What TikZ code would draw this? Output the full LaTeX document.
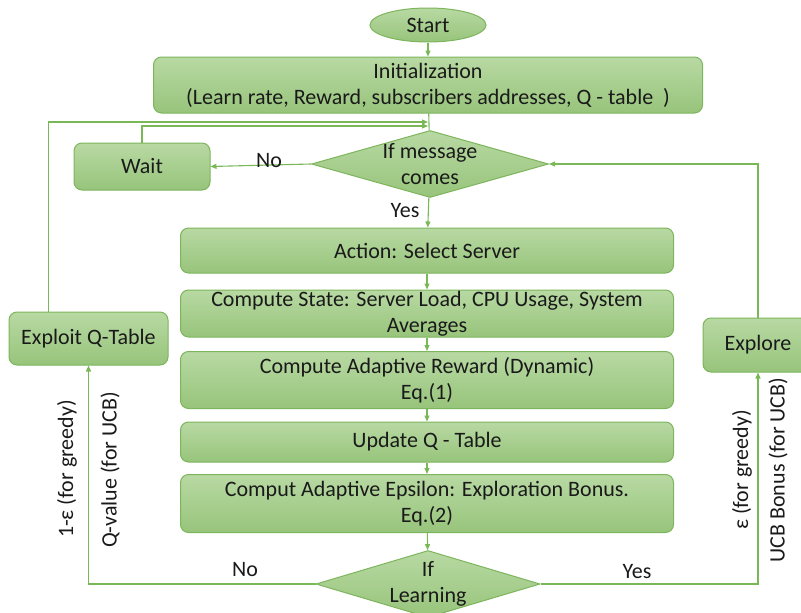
\documentclass[tikz,border=0pt]{standalone}
\usepackage{fontspec}
\setmainfont{Carlito}
\usetikzlibrary{arrows.meta,shapes.geometric,positioning}
\definecolor{boxtop}{HTML}{B8D9A3}
\definecolor{boxbot}{HTML}{97C47B}
\definecolor{boxline}{HTML}{7DB55C}
\definecolor{flowgreen}{HTML}{7AB857}
\definecolor{ink}{HTML}{1A1A1A}

\begin{document}
\begin{tikzpicture}[x=1pt,y=-1pt,
	every node/.style={font=\fontsize{22}{26}\selectfont, text=ink},
	block/.style={draw=boxline, line width=1pt, rounded corners=8pt, top color=boxtop, bottom color=boxbot, align=center, inner sep=0pt},
	decision/.style={draw=boxline, line width=1pt, diamond, top color=boxtop, bottom color=boxbot, inner sep=0pt, minimum width=#1, minimum height=67pt},
	link/.style={draw=flowgreen, line width=1.1pt},
	arrowed/.style={-{Triangle[length=6pt,width=5pt]}}]
	\useasboundingbox (0,0) rectangle (801,613);

	% main column
	\node[draw=boxline, line width=1pt, ellipse, top color=boxtop, bottom color=boxbot, minimum width=116pt, minimum height=34pt, inner sep=0pt] (start) at (428,25) {Start};
	\node[block, minimum width=549pt, minimum height=56pt] (init) at (428,85) {Initialization\\(Learn rate, Reward, subscribers addresses, Q - table\ \ )};
	\node[decision=237pt] (msg) at (430,164) {};
	\node[align=center] (msgtext) at (msg) {If message\\comes};
	\node[block, minimum width=493pt, minimum height=45pt] (action) at (427,250.5) {Action: Select Server};
	\node[block, minimum width=493pt, minimum height=47pt] (state) at (427,313.5) {Compute State: Server Load, CPU Usage, System\\Averages};
	\node[block, minimum width=493pt, minimum height=57pt] (reward) at (427,380) {Compute Adaptive Reward (Dynamic)\\Eq.(1)};
	\node[block, minimum width=493pt, minimum height=40pt] (update) at (427,442) {Update Q - Table};
	\node[block, minimum width=493pt, minimum height=58pt] (epsilon) at (427,503.5) {Comput Adaptive Epsilon: Exploration Bonus.\\Eq.(2)};
	\node[decision=224pt] (learn) at (428,584) {};
	\node[align=center] (learntext) at (learn) {If\\Learning};

	% side boxes
	\node[block, minimum width=136pt, minimum height=47pt] (wait) at (142,166.5) {Wait};
	\node[block, minimum width=159pt, minimum height=53pt] (exploit) at (88.5,338.5) {Exploit Q-Table};
	\node[block, minimum width=110pt, minimum height=54pt] (explore) at (758,345) {Explore};

	\coordinate (waitin) at (428,126);
	\coordinate (exploitin) at (428,122);

	% connectors
	\draw[link, arrowed] (start) -- (init);
	\draw[link] (init) -- (msg);
	\draw[link, arrowed] (wait.north) |- (waitin);
	\draw[link, arrowed] ([xshift=-40pt]exploit.north) |- (exploitin);
	\draw[link, arrowed] (msg.west) -- (wait.east);
	\draw[link, arrowed] (msg) -- (action);
	\draw[link, arrowed] (action) -- (state);
	\draw[link, arrowed] (state) -- (reward);
	\draw[link, arrowed] (reward) -- (update);
	\draw[link, arrowed] (update) -- (epsilon);
	\draw[link, arrowed] (epsilon) -- (learn);
	\draw[link, arrowed] (learn.west) -| (exploit.south);
	\draw[link, arrowed] (learn.east) -| (explore.south);
	\draw[link, arrowed] (explore.north) |- (msg.east);

	% labels
	\node (nomsg) at (269,161) {No};
	\node (yesmsg) at (405,211) {Yes};
	\node (nolearn) at (245,570) {No};
	\node (yeslearn) at (637,572) {Yes};
	\node[rotate=90] (greedyno) at (67,469) {1-ε (for greedy)};
	\node[rotate=90] (qvalue) at (110,470) {Q-value (for UCB)};
	\node[rotate=90] (greedyyes) at (742,470) {ε (for greedy)};
	\node[rotate=90] (ucbbonus) at (778,470) {UCB Bonus (for UCB)};
\end{tikzpicture}
\end{document}
